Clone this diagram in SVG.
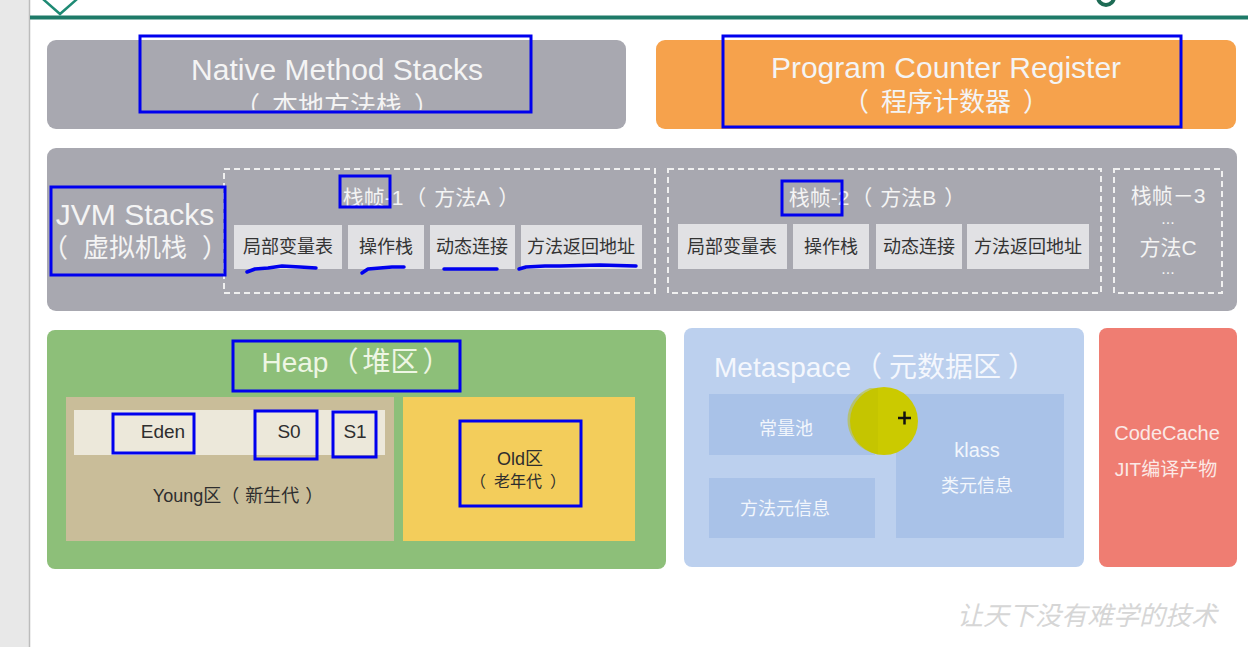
<svg xmlns="http://www.w3.org/2000/svg" width="1248" height="647" viewBox="0 0 1248 647">
<style>
text{font-family:"Liberation Sans","Noto Sans CJK SC",sans-serif}
.w{fill:#f4f4f4}
.t30{font-size:30px}
.t26{font-size:26px}
.t21{font-size:21px}
.sub{fill:#e1e1e4}
.st{font-size:18px;fill:#333}
.dash{fill:none;stroke:#f0f0f0;stroke-width:2;stroke-dasharray:6 4}
.ann{fill:none;stroke:#0000ee;stroke-width:3}
.ul{fill:none;stroke:#0000ee;stroke-width:3.5;stroke-linecap:round;stroke-linejoin:round}
.ms{fill:#a9c2e8}
.mt{font-size:18px;fill:#f2f6fc}
.dk{fill:#2e2e2e}
</style>
<defs>
<clipPath id="nclip"><rect x="40" y="30" width="600" height="80"/></clipPath>
</defs>
<rect x="0" y="0" width="1248" height="647" fill="#ffffff"/>
<rect x="0" y="0" width="29" height="647" fill="#e8e8e8"/>
<line x1="29.5" y1="0" x2="29.5" y2="647" stroke="#bcbcbc" stroke-width="1.5"/>
<g id="header">
<line x1="30" y1="17.5" x2="1248" y2="17.5" stroke="#1e7a68" stroke-width="4"/>
<polygon points="60,-16 76,0 60,14 44,0" fill="#ffffff" stroke="#1e8a74" stroke-width="2.5"/>
<circle cx="1106" cy="-3" r="8" fill="none" stroke="#1e6b55" stroke-width="4"/>
</g>
<g id="native">
<rect x="47" y="40" width="579" height="89" rx="9" fill="#a8a8b0"/>
<text x="337" y="80" class="w t30" text-anchor="middle">Native Method Stacks</text>
<text x="337" y="115" class="w t26" text-anchor="middle" clip-path="url(#nclip)">（<tspan dx="12">本地方法栈</tspan><tspan dx="12">）</tspan></text>
</g>
<g id="pc">
<rect x="656" y="40" width="580" height="89" rx="9" fill="#f6a24c"/>
<text x="946" y="78" class="w t30" text-anchor="middle">Program Counter Register</text>
<text x="946" y="111" class="w t26" text-anchor="middle">（<tspan dx="12">程序计数器</tspan><tspan dx="12">）</tspan></text>
</g>
<g id="jvm">
<rect x="47" y="148" width="1190" height="163" rx="9" fill="#a8a8b0"/>
<text x="135" y="225" class="w t30" text-anchor="middle">JVM Stacks</text>
<text x="135" y="257" class="w t26" text-anchor="middle">（<tspan dx="15">虚拟机栈</tspan><tspan dx="15">）</tspan></text>
</g>
<g id="frame1">
<rect x="224" y="169" width="431" height="124" class="dash"/>
<text x="431" y="205" class="w t21" text-anchor="middle">栈帧-1<tspan dx="2">（</tspan><tspan dx="8">方法A</tspan><tspan dx="8">）</tspan></text>
<rect x="234" y="225" width="108" height="44" class="sub"/>
<text x="288" y="253" class="st" text-anchor="middle">局部变量表</text>
<rect x="348" y="225" width="76" height="44" class="sub"/>
<text x="386" y="253" class="st" text-anchor="middle">操作栈</text>
<rect x="430" y="225" width="85" height="44" class="sub"/>
<text x="472" y="253" class="st" text-anchor="middle">动态连接</text>
<rect x="521" y="225" width="121" height="44" class="sub"/>
<text x="581" y="253" class="st" text-anchor="middle">方法返回地址</text>
</g>
<g id="frame2">
<rect x="668" y="169" width="433" height="124" class="dash"/>
<text x="877" y="205" class="w t21" text-anchor="middle">栈帧-2<tspan dx="2">（</tspan><tspan dx="8">方法B</tspan><tspan dx="8">）</tspan></text>
<rect x="678" y="224" width="109" height="45" class="sub"/>
<text x="732" y="253" class="st" text-anchor="middle">局部变量表</text>
<rect x="793" y="224" width="76" height="45" class="sub"/>
<text x="831" y="253" class="st" text-anchor="middle">操作栈</text>
<rect x="876" y="224" width="86" height="45" class="sub"/>
<text x="919" y="253" class="st" text-anchor="middle">动态连接</text>
<rect x="967" y="224" width="122" height="45" class="sub"/>
<text x="1028" y="253" class="st" text-anchor="middle">方法返回地址</text>
</g>
<g id="frame3">
<rect x="1114" y="169" width="108" height="124" class="dash"/>
<text x="1168" y="203" class="w t21" text-anchor="middle">栈帧－3</text>
<text x="1168" y="224" class="w" font-size="16" text-anchor="middle">...</text>
<text x="1168" y="255" class="w t21" text-anchor="middle">方法C</text>
<text x="1168" y="274" class="w" font-size="16" text-anchor="middle">...</text>
</g>
<g id="heap">
<rect x="47" y="330" width="619" height="239" rx="8" fill="#8dbf79"/>
<text x="356" y="372" fill="#eef6e4" font-size="28" text-anchor="middle">Heap<tspan dx="2">（</tspan><tspan dx="4">堆区</tspan><tspan dx="4">）</tspan></text>
</g>
<g id="young">
<rect x="66" y="397" width="328" height="144" fill="#c9bd99"/>
<rect x="74" y="410" width="311" height="45" fill="#ece8da"/>
<text x="238" y="502" class="dk" font-size="18" text-anchor="middle">Young区（<tspan dx="6">新生代</tspan><tspan dx="6">）</tspan></text>
</g>
<g id="eden"><text x="163" y="438" class="dk" font-size="19" text-anchor="middle">Eden</text></g>
<g id="s0"><text x="289" y="438" class="dk" font-size="19" text-anchor="middle">S0</text></g>
<g id="s1"><text x="355" y="438" class="dk" font-size="19" text-anchor="middle">S1</text></g>
<g id="old">
<rect x="403" y="397" width="232" height="144" fill="#f3cd5b"/>
<text x="520" y="465" class="dk" font-size="18" text-anchor="middle">Old区</text>
<text x="518" y="487" class="dk" font-size="16" text-anchor="middle">（<tspan dx="8">老年代</tspan><tspan dx="8">）</tspan></text>
</g>
<g id="metaspace">
<rect x="684" y="328" width="400" height="239" rx="8" fill="#bcd0ee"/>
<text x="714" y="377" fill="#f4f7fd" font-size="28">Metaspace<tspan dx="3">（</tspan><tspan dx="7">元数据区</tspan><tspan dx="7">）</tspan></text>
</g>
<g id="constpool">
<rect x="709" y="394" width="166" height="61" class="ms"/>
<text x="786" y="435" class="mt" text-anchor="middle">常量池</text>
</g>
<g id="methodmeta">
<rect x="709" y="478" width="166" height="60" class="ms"/>
<text x="785" y="515" class="mt" text-anchor="middle">方法元信息</text>
</g>
<g id="klass">
<rect x="896" y="394" width="168" height="144" class="ms"/>
<text x="977" y="457" fill="#f2f6fc" font-size="20" text-anchor="middle">klass</text>
<text x="977" y="492" class="mt" text-anchor="middle">类元信息</text>
</g>
<g id="codecache">
<rect x="1099" y="328" width="138" height="239" rx="8" fill="#ef7d72"/>
<text x="1167" y="440" fill="#fbe9e6" font-size="20" text-anchor="middle">CodeCache</text>
<text x="1166" y="476" fill="#fbe9e6" font-size="19" text-anchor="middle">JIT编译产物</text>
</g>
<g id="cursor">
<circle cx="884" cy="421" r="34" fill="#cbca00"/>
<path d="M870,388 A34,34 0 0 0 870,452 L878,454 L878,388 Z" fill="#c0bf00" opacity="0.5"/>
<line x1="898" y1="418" x2="911" y2="418" stroke="#111" stroke-width="2.5"/>
<line x1="904.5" y1="411.5" x2="904.5" y2="424.5" stroke="#111" stroke-width="2.5"/>
</g>
<g id="connectors"></g>
<g id="annotations">
<rect x="140" y="36" width="391" height="76" class="ann"/>
<rect x="723" y="36" width="458" height="91" class="ann"/>
<rect x="51" y="187" width="174" height="88" class="ann"/>
<rect x="340" y="176" width="50" height="31" class="ann"/>
<rect x="782" y="181" width="60" height="34" class="ann"/>
<rect x="233" y="341" width="227" height="50" class="ann"/>
<rect x="113" y="414" width="81" height="39" class="ann"/>
<rect x="255" y="411" width="62" height="48" class="ann"/>
<rect x="333" y="412" width="43" height="45" class="ann"/>
<rect x="460" y="421" width="121" height="85" class="ann"/>
<path d="M247,272 L255,269 L268,268 L282,266 L300,267 L316,268" class="ul"/>
<path d="M362,273 L368,269 L380,268 L392,267 L404,267" class="ul"/>
<path d="M444,269 L470,269 L497,269" class="ul"/>
<path d="M519,269 L526,267 L545,266 L560,266 L600,265 L636,266" class="ul"/>
</g>
<g id="watermark">
<text x="1087" y="625" fill="#d6d6d6" font-size="26" text-anchor="middle" font-style="italic">让天下没有难学的技术</text>
</g>
</svg>
